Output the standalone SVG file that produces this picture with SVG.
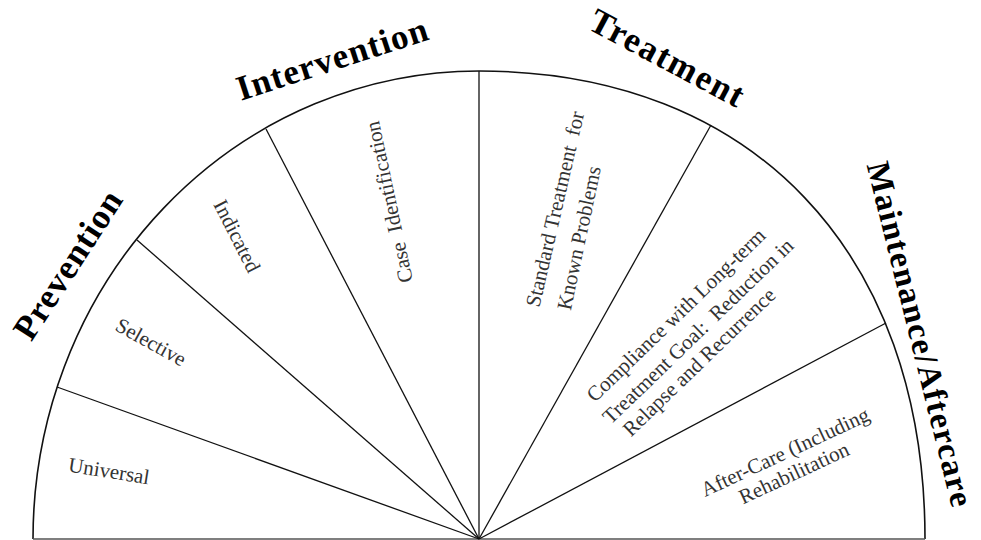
<svg xmlns="http://www.w3.org/2000/svg" width="981" height="540" viewBox="0 0 981 540">
<style>
.arc{fill:none;stroke:#111;stroke-width:1.6}
.base{fill:none;stroke:#555;stroke-width:1.6}
.spoke{fill:none;stroke:#111;stroke-width:1.3}
.lbl{font-family:"Liberation Serif","Times New Roman",serif;font-size:21px;fill:#333;text-anchor:middle;dominant-baseline:central}
.hdr{font-family:"Liberation Serif","Times New Roman",serif;font-size:35px;font-weight:bold;fill:#000;text-anchor:middle;dominant-baseline:central}
</style>
<rect width="981" height="540" fill="#fff"/>
<g id="outline">
<path class="arc" d="M33,539 A446,468 0 0 1 479,71 C752,71 925,252 925,539"/>
<path class="base" d="M33,539 H925"/>
</g>
<g id="connectors">
<path class="spoke" d="M479,539 L57,387"/>
<path class="spoke" d="M479,539 L137,240"/>
<path class="spoke" d="M479,539 L266,129"/>
<path class="spoke" d="M479,539 L479,71"/>
<path class="spoke" d="M479,539 L711,125"/>
<path class="spoke" d="M479,539 L886,323"/>
</g>
<g id="universal"><text class="lbl" transform="translate(109,471) rotate(9)">Universal</text></g>
<g id="selective"><text class="lbl" transform="translate(151,342) rotate(29)">Selective</text></g>
<g id="indicated"><text class="lbl" transform="translate(237,236) rotate(63)">Indicated</text></g>
<g id="case-identification"><text class="lbl" transform="translate(389,202) rotate(-102)" xml:space="preserve">Case  Identification</text></g>
<g id="standard-treatment">
<text class="lbl" transform="translate(555,209) rotate(-77)" xml:space="preserve">Standard Treatment  for</text>
<text class="lbl" transform="translate(579,238) rotate(-78)">Known Problems</text>
</g>
<g id="compliance">
<text class="lbl" transform="translate(676,315) rotate(-44)">Compliance with Long-term</text>
<text class="lbl" transform="translate(698,331) rotate(-44)" xml:space="preserve">Treatment Goal:  Reduction in</text>
<text class="lbl" transform="translate(699,362) rotate(-44)">Relapse and Recurrence</text>
</g>
<g id="after-care">
<text class="lbl" transform="translate(785,452) rotate(-25)">After-Care (Including</text>
<text class="lbl" transform="translate(794,473) rotate(-25)">Rehabilitation</text>
</g>
<g id="prevention"><text class="hdr" transform="translate(68,265) rotate(-57)" textLength="170" lengthAdjust="spacing">Prevention</text></g>
<g id="intervention"><text class="hdr" transform="translate(332,59) rotate(-18)" textLength="199" lengthAdjust="spacing">Intervention</text></g>
<g id="treatment"><text class="hdr" transform="translate(667,58) rotate(28)" textLength="170" lengthAdjust="spacing">Treatment</text></g>
<g id="maintenance"><text class="hdr" style="font-size:33px" transform="translate(920,334) rotate(76)" textLength="354" lengthAdjust="spacing">Maintenance/Aftercare</text></g>
</svg>
